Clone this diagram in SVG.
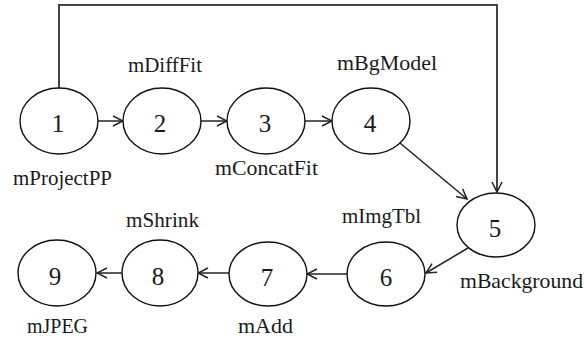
<svg xmlns="http://www.w3.org/2000/svg" width="584" height="343" viewBox="0 0 584 343">
<style>
.n ellipse{fill:#fff;stroke:#111;stroke-width:1.4}
.num{font-family:'Liberation Serif','Noto Serif','DejaVu Serif',Tinos,FreeSerif,Times,serif;font-size:25px;fill:#1a1a1a;text-anchor:middle}
.lbl{font-family:'Liberation Serif','Noto Serif','DejaVu Serif',Tinos,FreeSerif,Times,serif;font-size:21px;fill:#1a1a1a}
.c{fill:none;stroke:#222;stroke-width:1.5}
</style>
<defs>
<marker id="a" viewBox="0 0 12 12" refX="11" refY="6" markerWidth="12" markerHeight="12" markerUnits="userSpaceOnUse" orient="auto">
<path d="M1,1 L11,6 L1,11" fill="none" stroke="#222" stroke-width="1.5"/>
</marker>
</defs>
<rect width="584" height="343" fill="#fff"/>
<g id="connectors">
<path class="c" d="M59,88 V5 H497 V192" style="stroke:#444;stroke-width:2" marker-end="url(#a)"/>
<line class="c" x1="98" y1="121" x2="123" y2="121" marker-end="url(#a)"/>
<line class="c" x1="201" y1="121" x2="227" y2="121" marker-end="url(#a)"/>
<line class="c" x1="305" y1="121" x2="332" y2="121" marker-end="url(#a)"/>
<line class="c" x1="400" y1="143" x2="467" y2="199" marker-end="url(#a)"/>
<line class="c" x1="468" y1="248" x2="426" y2="273" marker-end="url(#a)"/>
<line class="c" x1="347" y1="274" x2="307" y2="274" marker-end="url(#a)"/>
<line class="c" x1="230" y1="273" x2="198" y2="273" marker-end="url(#a)"/>
<line class="c" x1="122" y1="273" x2="97" y2="273" marker-end="url(#a)"/>
</g>
<g id="node1" class="n"><ellipse cx="59" cy="121" rx="39" ry="33"/><text class="num" x="58" y="132">1</text><text class="lbl" x="13" y="185" textLength="99" lengthAdjust="spacingAndGlyphs">mProjectPP</text></g>
<g id="node2" class="n"><ellipse cx="162" cy="121" rx="39" ry="33"/><text class="num" x="160" y="132">2</text><text class="lbl" x="128" y="72" textLength="74" lengthAdjust="spacingAndGlyphs">mDiffFit</text></g>
<g id="node3" class="n"><ellipse cx="266" cy="121" rx="39" ry="33"/><text class="num" x="265" y="132">3</text><text class="lbl" x="215" y="175" textLength="103" lengthAdjust="spacingAndGlyphs">mConcatFit</text></g>
<g id="node4" class="n"><ellipse cx="371" cy="121" rx="39" ry="33"/><text class="num" x="370" y="132">4</text><text class="lbl" x="337" y="70" textLength="100" lengthAdjust="spacingAndGlyphs">mBgModel</text></g>
<g id="node5" class="n"><ellipse cx="496" cy="225" rx="39" ry="32"/><text class="num" x="495" y="237">5</text><text class="lbl" x="460" y="288" textLength="123" lengthAdjust="spacingAndGlyphs">mBackground</text></g>
<g id="node6" class="n"><ellipse cx="386" cy="274" rx="39" ry="32"/><text class="num" x="386" y="286">6</text><text class="lbl" x="342" y="223" textLength="79" lengthAdjust="spacingAndGlyphs">mImgTbl</text></g>
<g id="node7" class="n"><ellipse cx="268" cy="274" rx="39" ry="32"/><text class="num" x="267" y="286">7</text><text class="lbl" x="238" y="333" textLength="55" lengthAdjust="spacingAndGlyphs">mAdd</text></g>
<g id="node8" class="n"><ellipse cx="160" cy="273" rx="38" ry="33"/><text class="num" x="158" y="285">8</text><text class="lbl" x="126" y="227" textLength="73" lengthAdjust="spacingAndGlyphs">mShrink</text></g>
<g id="node9" class="n"><ellipse cx="57" cy="273" rx="39" ry="33"/><text class="num" x="55" y="285">9</text><text class="lbl" x="27" y="333" textLength="61" lengthAdjust="spacingAndGlyphs">mJPEG</text></g>
</svg>
